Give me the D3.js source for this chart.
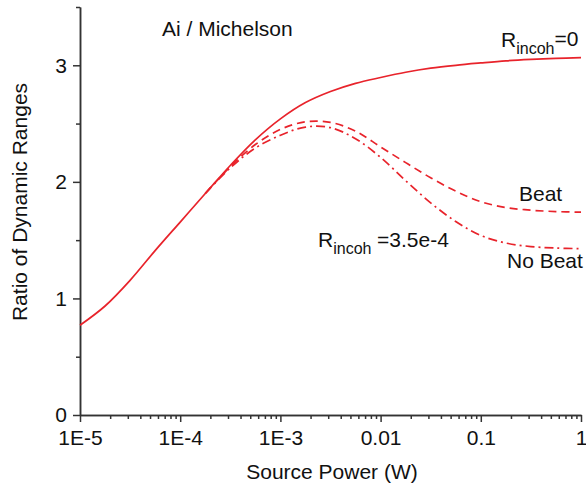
<!DOCTYPE html>
<html>
<head>
<meta charset="utf-8">
<script src="https://cdn.jsdelivr.net/npm/d3@7"></script>
<style>
  body { margin: 0; background: #fff; }
  svg { font-family: "Liberation Sans", Arial, sans-serif; }
  .axis path, .axis line { stroke: #333; stroke-width: 1.5; }
  .axis text { font-size: 21px; fill: #111; }
  .lbl { font-size: 21px; fill: #111; }
  .sub { font-size: 16px; }
</style>
</head>
<body>
<script>
// source power (W), quarter-decade steps, and ratio values
var powerSolid = [1e-5, 1.78e-5, 3.16e-5, 5.62e-5, 1e-4, 1.78e-4, 3.16e-4, 5.62e-4,
  1e-3, 1.78e-3, 3.16e-3, 5.62e-3, 1e-2, 1.78e-2, 3.16e-2, 5.62e-2, 0.1, 0.178, 0.316, 0.562, 1];
var ratioSolid = [0.77, 0.935, 1.155, 1.41, 1.655, 1.90, 2.14, 2.36,
  2.54, 2.68, 2.775, 2.845, 2.895, 2.94, 2.975, 3.0, 3.02, 3.038, 3.05, 3.059, 3.065];

var powerIncoh = [1.78e-4, 3.16e-4, 5.62e-4, 1e-3, 1.78e-3, 3.16e-3, 5.62e-3,
  1e-2, 1.78e-2, 3.16e-2, 5.62e-2, 0.1, 0.178, 0.316, 0.562, 1];
var ratioBeat = [1.90, 2.13, 2.32, 2.45, 2.515, 2.51, 2.435,
  2.30, 2.165, 2.035, 1.92, 1.83, 1.78, 1.757, 1.745, 1.74];
var ratioNoBeat = [1.90, 2.12, 2.29, 2.40, 2.47, 2.465, 2.37,
  2.21, 2.01, 1.82, 1.66, 1.54, 1.475, 1.445, 1.432, 1.427];

var xTicks = [1e-5, 1e-4, 1e-3, 1e-2, 0.1, 1];
var xTickLabels = ["1E-5", "1E-4", "1E-3", "0.01", "0.1", "1"];
var yTicks = [0, 1, 2, 3];
var yMinorTicks = [0.5, 1.5, 2.5, 3.5];

var width = 586, height = 487;
var plotLeft = 80, plotRight = 581, plotTop = 7, plotBottom = 415;
var red = "#e8232b";

var svg = d3.select("body").append("svg")
  .attr("width", width)
  .attr("height", height);

var x = d3.scaleLog().domain([1e-5, 1]).range([plotLeft, plotRight]);
var y = d3.scaleLinear().domain([0, 3.5]).range([plotBottom, plotTop]);

//minor ticks 2..9 in every decade
var xMinor = [];
for (var d = 0; d < xTicks.length - 1; d++) {
  for (var k = 2; k < 10; k++) xMinor.push(xTicks[d] * k);
}

//x axis
svg.append("g")
  .attr("class", "axis")
  .attr("transform", "translate(0," + plotBottom + ")")
  .call(d3.axisBottom(x).tickValues(xMinor).tickSize(4).tickSizeOuter(0).tickFormat(""));
svg.append("g")
  .attr("class", "axis")
  .attr("transform", "translate(0," + plotBottom + ")")
  .call(d3.axisBottom(x).tickValues(xTicks).tickSize(7).tickSizeOuter(0)
    .tickPadding(8)
    .tickFormat(function(d, i) { return xTickLabels[i]; }));

//y axis
svg.append("g")
  .attr("class", "axis")
  .attr("transform", "translate(" + plotLeft + ",0)")
  .call(d3.axisLeft(y).tickValues(yMinorTicks).tickSize(4).tickSizeOuter(0).tickFormat(""));
svg.append("g")
  .attr("class", "axis")
  .attr("transform", "translate(" + plotLeft + ",0)")
  .call(d3.axisLeft(y).tickValues(yTicks).tickSize(7).tickSizeOuter(0)
    .tickPadding(6)
    .tickFormat(d3.format("d")));

//curves
var line = d3.line()
  .x(function(d) { return x(d[0]); })
  .y(function(d) { return y(d[1]); })
  .curve(d3.curveCatmullRom.alpha(0.5));

function drawCurve(px, py, dash) {
  svg.append("path")
    .datum(px.map(function(p, i) { return [p, py[i]]; }))
    .attr("fill", "none")
    .attr("stroke", red)
    .attr("stroke-width", 1.7)
    .attr("stroke-dasharray", dash)
    .attr("d", line);
}
drawCurve(powerSolid, ratioSolid, null);
drawCurve(powerIncoh, ratioBeat, "8,5");
drawCurve(powerIncoh, ratioNoBeat, "9,4,2,4");

//axis titles
svg.append("text")
  .attr("class", "lbl")
  .attr("x", 332)
  .attr("y", 479)
  .attr("text-anchor", "middle")
  .text("Source Power (W)");
svg.append("text")
  .attr("class", "lbl")
  .attr("transform", "translate(27,202) rotate(-90)")
  .attr("text-anchor", "middle")
  .text("Ratio of Dynamic Ranges");

//annotations
svg.append("text").attr("class", "lbl")
  .attr("x", 162).attr("y", 36)
  .text("Ai / Michelson");

var t0 = svg.append("text").attr("class", "lbl").attr("x", 501).attr("y", 47);
t0.append("tspan").text("R");
t0.append("tspan").attr("class", "sub").attr("dy", 7).text("incoh");
t0.append("tspan").attr("dy", -8).text("=0");

var t1 = svg.append("text").attr("class", "lbl").attr("x", 318).attr("y", 247);
t1.append("tspan").text("R");
t1.append("tspan").attr("class", "sub").attr("dy", 7).text("incoh");
t1.append("tspan").attr("x", 377).attr("dy", -7).text("=3.5e-4");

svg.append("text").attr("class", "lbl")
  .attr("x", 519).attr("y", 201)
  .text("Beat");
svg.append("text").attr("class", "lbl")
  .attr("x", 507).attr("y", 268)
  .text("No Beat");
</script>
</body>
</html>
